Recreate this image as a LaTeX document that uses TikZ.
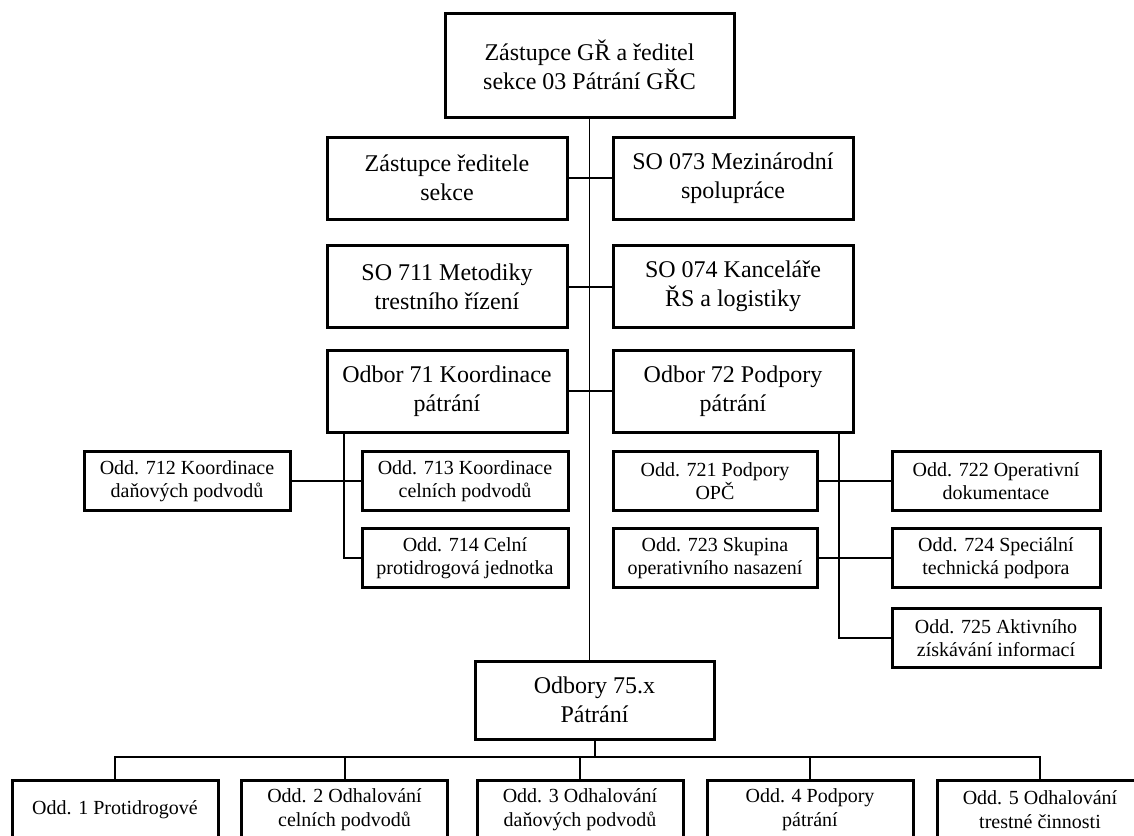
\documentclass[tikz,border=0pt]{standalone}
\usepackage{fontspec}
\setmainfont{Liberation Serif}
\usepackage{tikz}
\usetikzlibrary{positioning}
\tikzset{
    unitbig/.style={
        rectangle, draw=black, line width=1.5pt,
        minimum width=120pt, minimum height=41pt,
        inner sep=0pt, align=center,
        font=\fontsize{12}{14.5}\selectfont
    },
    unitsmall/.style={
        rectangle, draw=black, line width=1.5pt,
        minimum width=103pt, minimum height=29.5pt,
        inner sep=0pt, align=center,
        font=\fontsize{10}{11.5}\selectfont
    },
    unitlow/.style={
        unitsmall, minimum height=30pt,
        font=\fontsize{10}{12}\selectfont
    },
    link/.style={draw=black, line width=1pt},
    spine/.style={draw=black, line width=0.8pt},
}
\begin{document}
\begin{tikzpicture}[x=0.5pt, y=-0.5pt]

    % Frame
    \useasboundingbox (0,0) rectangle (1134,835);
    \fill[white] (0,0) rectangle (1134,835);
    \clip (0,0) rectangle (1134,835);

    % Head
    \node[unitbig, minimum width=144.5pt, minimum height=52pt] (head) at (589.5,65)
        {Zástupce GŘ a ředitel\\sekce 03 Pátrání GŘC};

    % Staff units
    \node[unitbig] (zast) at (447,178) {Zástupce ředitele\\sekce};
    \node[unitbig] (so073) at (733,178) {SO 073 Mezinárodní\\spolupráce};
    \node[unitbig] (so711) at (447,286.5) {SO 711 Metodiky\\trestního řízení};
    \node[unitbig] (so074) at (733,286.5) {SO 074 Kanceláře\\ŘS a logistiky};
    \node[unitbig] (o71) at (447,391) {Odbor 71 Koordinace\\pátrání};
    \node[unitbig] (o72) at (733,391) {Odbor 72 Podpory\\pátrání};

    % Odbor 71
    \node[unitsmall] (o712) at (187,481) {Odd. 712 Koordinace\\daňových podvodů};
    \node[unitsmall] (o713) at (465,481) {Odd. 713 Koordinace\\celních podvodů};
    \node[unitsmall, below=7.5pt of o713] (o714) {Odd. 714 Celní\\protidrogová jednotka};

    % Odbor 72
    \node[unitsmall, minimum width=102pt] (o721) at (715,481) {Odd. 721 Podpory\\OPČ};
    \node[unitsmall, minimum width=102pt, below=7.5pt of o721] (o723) {Odd. 723 Skupina\\operativního nasazení};
    \node[unitsmall, minimum width=104pt] (o722) at (996,481) {Odd. 722 Operativní\\dokumentace};
    \node[unitsmall, minimum width=104pt, below=7.5pt of o722] (o724) {Odd. 724 Speciální\\technická podpora};
    \node[unitsmall, minimum width=104pt, below=9pt of o724] (o725) {Odd. 725 Aktivního\\získávání informací};

    % Odbory 75.x
    \node[unitbig, minimum width=119.5pt, minimum height=39pt] (ob75) at (594.5,700)
        {Odbory 75.x\\Pátrání};
    \node[unitlow] (b1) at (115,810) {Odd. 1 Protidrogové};
    \node[unitlow] (b2) at (344.5,810) {Odd. 2 Odhalování\\celních podvodů};
    \node[unitlow] (b3) at (580,810) {Odd. 3 Odhalování\\daňových podvodů};
    \node[unitlow] (b4) at (810,810) {Odd. 4 Podpory\\pátrání};
    \node[unitlow] (b5) at (1040,810) {Odd. 5 Odhalování\\trestné činnosti};

    % Lines
    \draw[spine] (head.south) -- (head.south |- ob75.north);
    \draw[link] (zast.east) -- (so073.west);
    \draw[link] (so711.east) -- (so074.west);
    \draw[link] (o71.east) -- (o72.west);

    \draw[link] ([xshift=9pt]o71.south west) |- (o714.west);
    \draw[link] (o712.east) -- (o713.west);

    \draw[link] ([xshift=-8pt]o72.south east) |- (o725.west);
    \draw[link] (o721.east) -- (o722.west);
    \draw[link] (o723.east) -- (o724.west);

    \coordinate (bus) at (ob75.south |- 0,757);
    \draw[link] (ob75.south) -- (bus);
    \foreach \b in {b1,b2,b3,b4,b5}
        \draw[link] (\b.north) |- (bus);

\end{tikzpicture}
\end{document}
